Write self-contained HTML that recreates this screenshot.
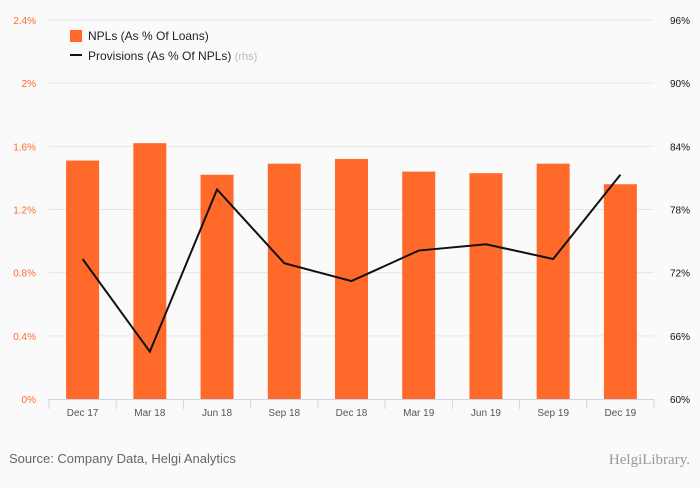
<!DOCTYPE html>
<html><head><meta charset="utf-8"><style>
body{margin:0;background:#fafafa;font-family:"Liberation Sans",sans-serif}
</style></head><body>
<svg id="c" width="700" height="483" xmlns="http://www.w3.org/2000/svg"></svg>
<script>
const categories=["Dec 17","Mar 18","Jun 18","Sep 18","Dec 18","Mar 19","Jun 19","Sep 19","Dec 19"];
const npls=[1.51,1.62,1.42,1.49,1.52,1.44,1.43,1.49,1.36];
const provisions=[73.3,64.5,79.9,72.9,71.2,74.1,74.7,73.3,81.3];
const leftTicks=[0,0.4,0.8,1.2,1.6,2,2.4];
const leftLabels=["0%","0.4%","0.8%","1.2%","1.6%","2%","2.4%"];
const rightTicks=[60,66,72,78,84,90,96];
const rightLabels=["60%","66%","72%","78%","84%","90%","96%"];
const svg=document.getElementById('c');const NS="http://www.w3.org/2000/svg";
const x0=49,x1=654,yTop=20,yBot=399;
const step=(x1-x0)/categories.length;
const xc=i=>x0+step*(i+0.5);
const yL=v=>yBot-(v-0)/2.4*(yBot-yTop);
const yR=v=>yBot-(v-60)/36*(yBot-yTop);
function mk(t,a,txt){const e=document.createElementNS(NS,t);for(const k in a)e.setAttribute(k,a[k]);if(txt!=null)e.textContent=txt;svg.appendChild(e);return e;}
leftTicks.forEach((v,i)=>{
 if(i>0){const g=mk('line',{x1:x0,x2:x1,y1:yL(v),y2:yL(v),stroke:'#e6e6e6'});
 
 }
 const t=mk('text',{x:36,y:yL(v)+4,'text-anchor':'end','font-size':10,fill:'#ff6a2a'},leftLabels[i]);
 
 
});
rightTicks.forEach((v,i)=>{
 const t=mk('text',{x:690,y:yR(v)+4,'text-anchor':'end','font-size':10,fill:'#111'},rightLabels[i]);
 
 
});
npls.forEach((v,i)=>{
 const b=mk('rect',{x:xc(i)-16.5,y:yL(v),width:33,height:yBot-yL(v),fill:'#ff6a2a'});
 
 
});
const ax=mk('line',{x1:x0,x2:x1,y1:yBot+0.5,y2:yBot+0.5,stroke:'#ccd6eb'});


for(let i=0;i<=categories.length;i++){const t=mk('line',{x1:x0+step*i,x2:x0+step*i,y1:yBot,y2:yBot+10,stroke:'#ccd6eb'});
 
 }
categories.forEach((c,i)=>{const t=mk('text',{x:xc(i),y:416,'text-anchor':'middle','font-size':10,fill:'#555'},c);
 
 });
const pl=mk('polyline',{points:provisions.map((v,i)=>xc(i)+','+yR(v)).join(' '),fill:'none',stroke:'#111','stroke-width':2});


const l1=mk('rect',{x:70,y:30,width:12,height:12,fill:'#ff6a2a'});


const l1t=mk('text',{x:88,y:40,'font-size':12,fill:'#222'},'NPLs (As % Of Loans)');


const l2=mk('line',{x1:70,x2:82,y1:55,y2:55,stroke:'#111','stroke-width':2});


const l2t=mk('text',{x:88,y:60,'font-size':12,fill:'#222'});
l2t.innerHTML='Provisions (As % Of NPLs) <tspan fill="#bbb" font-size="11">(rhs)</tspan>';


const src=mk('text',{x:9,y:463,'font-size':13,fill:'#666'},'Source: Company Data, Helgi Analytics');


const lg=mk('text',{x:690,y:464,'text-anchor':'end','font-size':15,fill:'#999','font-family':'Liberation Serif, serif'},'HelgiLibrary.');


</script>
</body></html>
